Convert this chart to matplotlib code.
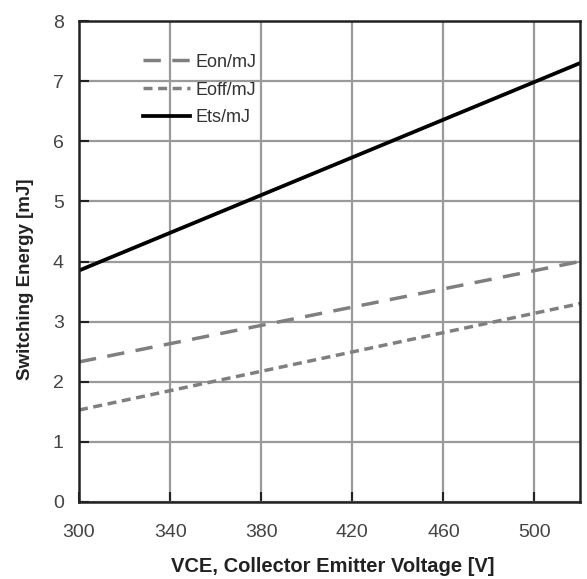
import matplotlib
matplotlib.use("Agg")
import matplotlib.pyplot as plt

plt.rcParams['font.family'] = ['Liberation Sans', 'DejaVu Sans']

# Switching energy versus collector-emitter voltage
vce = [300, 520]
e_on = [2.33, 4.0]
e_off = [1.53, 3.3]
e_ts = [3.85, 7.3]

x_ticks = [300, 340, 380, 420, 460, 500]
y_ticks = [0, 1, 2, 3, 4, 5, 6, 7, 8]

fig = plt.figure(figsize=(5.87, 5.79), dpi=100)
ax = fig.add_axes([0.1346, 0.1330, 0.8535, 0.8307])

ax.plot(vce, e_on, color='#7f7f7f', lw=2.5, dashes=(5, 3.3), label='Eon/mJ')
ax.plot(vce, e_off, color='#7f7f7f', lw=2.5, dashes=(2.6, 1.6), label='Eoff/mJ')
ax.plot(vce, e_ts, color='black', lw=2.7, label='Ets/mJ')

ax.set_xlim(300, 520)
ax.set_ylim(0, 8)
ax.set_xticks(x_ticks)
ax.set_yticks(y_ticks)
ax.grid(True, color='#9a9a9a', lw=1.6)
ax.set_axisbelow(True)
for s in ax.spines.values():
    s.set_linewidth(1.8)
    s.set_color('#222222')
ax.tick_params(direction='in', length=7, width=1.5, labelsize=14,
               colors='#222222')
ax.tick_params(axis='y', pad=11)
ax.tick_params(axis='x', pad=16)
for lbl in ax.get_xticklabels() + ax.get_yticklabels():
    lbl.set_color('#444444')

ax.set_xlabel('VCE, Collector Emitter Voltage [V]', fontsize=14.5,
              fontweight='bold', color='#222222', va='bottom')
ax.set_ylabel('Switching Energy [mJ]', fontsize=13.5,
              fontweight='bold', color='#222222')
ax.xaxis.set_label_coords(0.506, -0.1535)
ax.yaxis.set_label_coords(-0.09, 0.464)

leg = ax.legend(loc='upper left', bbox_to_anchor=(0.128, 0.932),
                frameon=False, fontsize=13, handlelength=2.6,
                handletextpad=0.3, labelspacing=0.6, borderpad=0,
                borderaxespad=0)
for t in leg.get_texts():
    t.set_color('#333333')

fig.savefig('out.png', dpi=100)
